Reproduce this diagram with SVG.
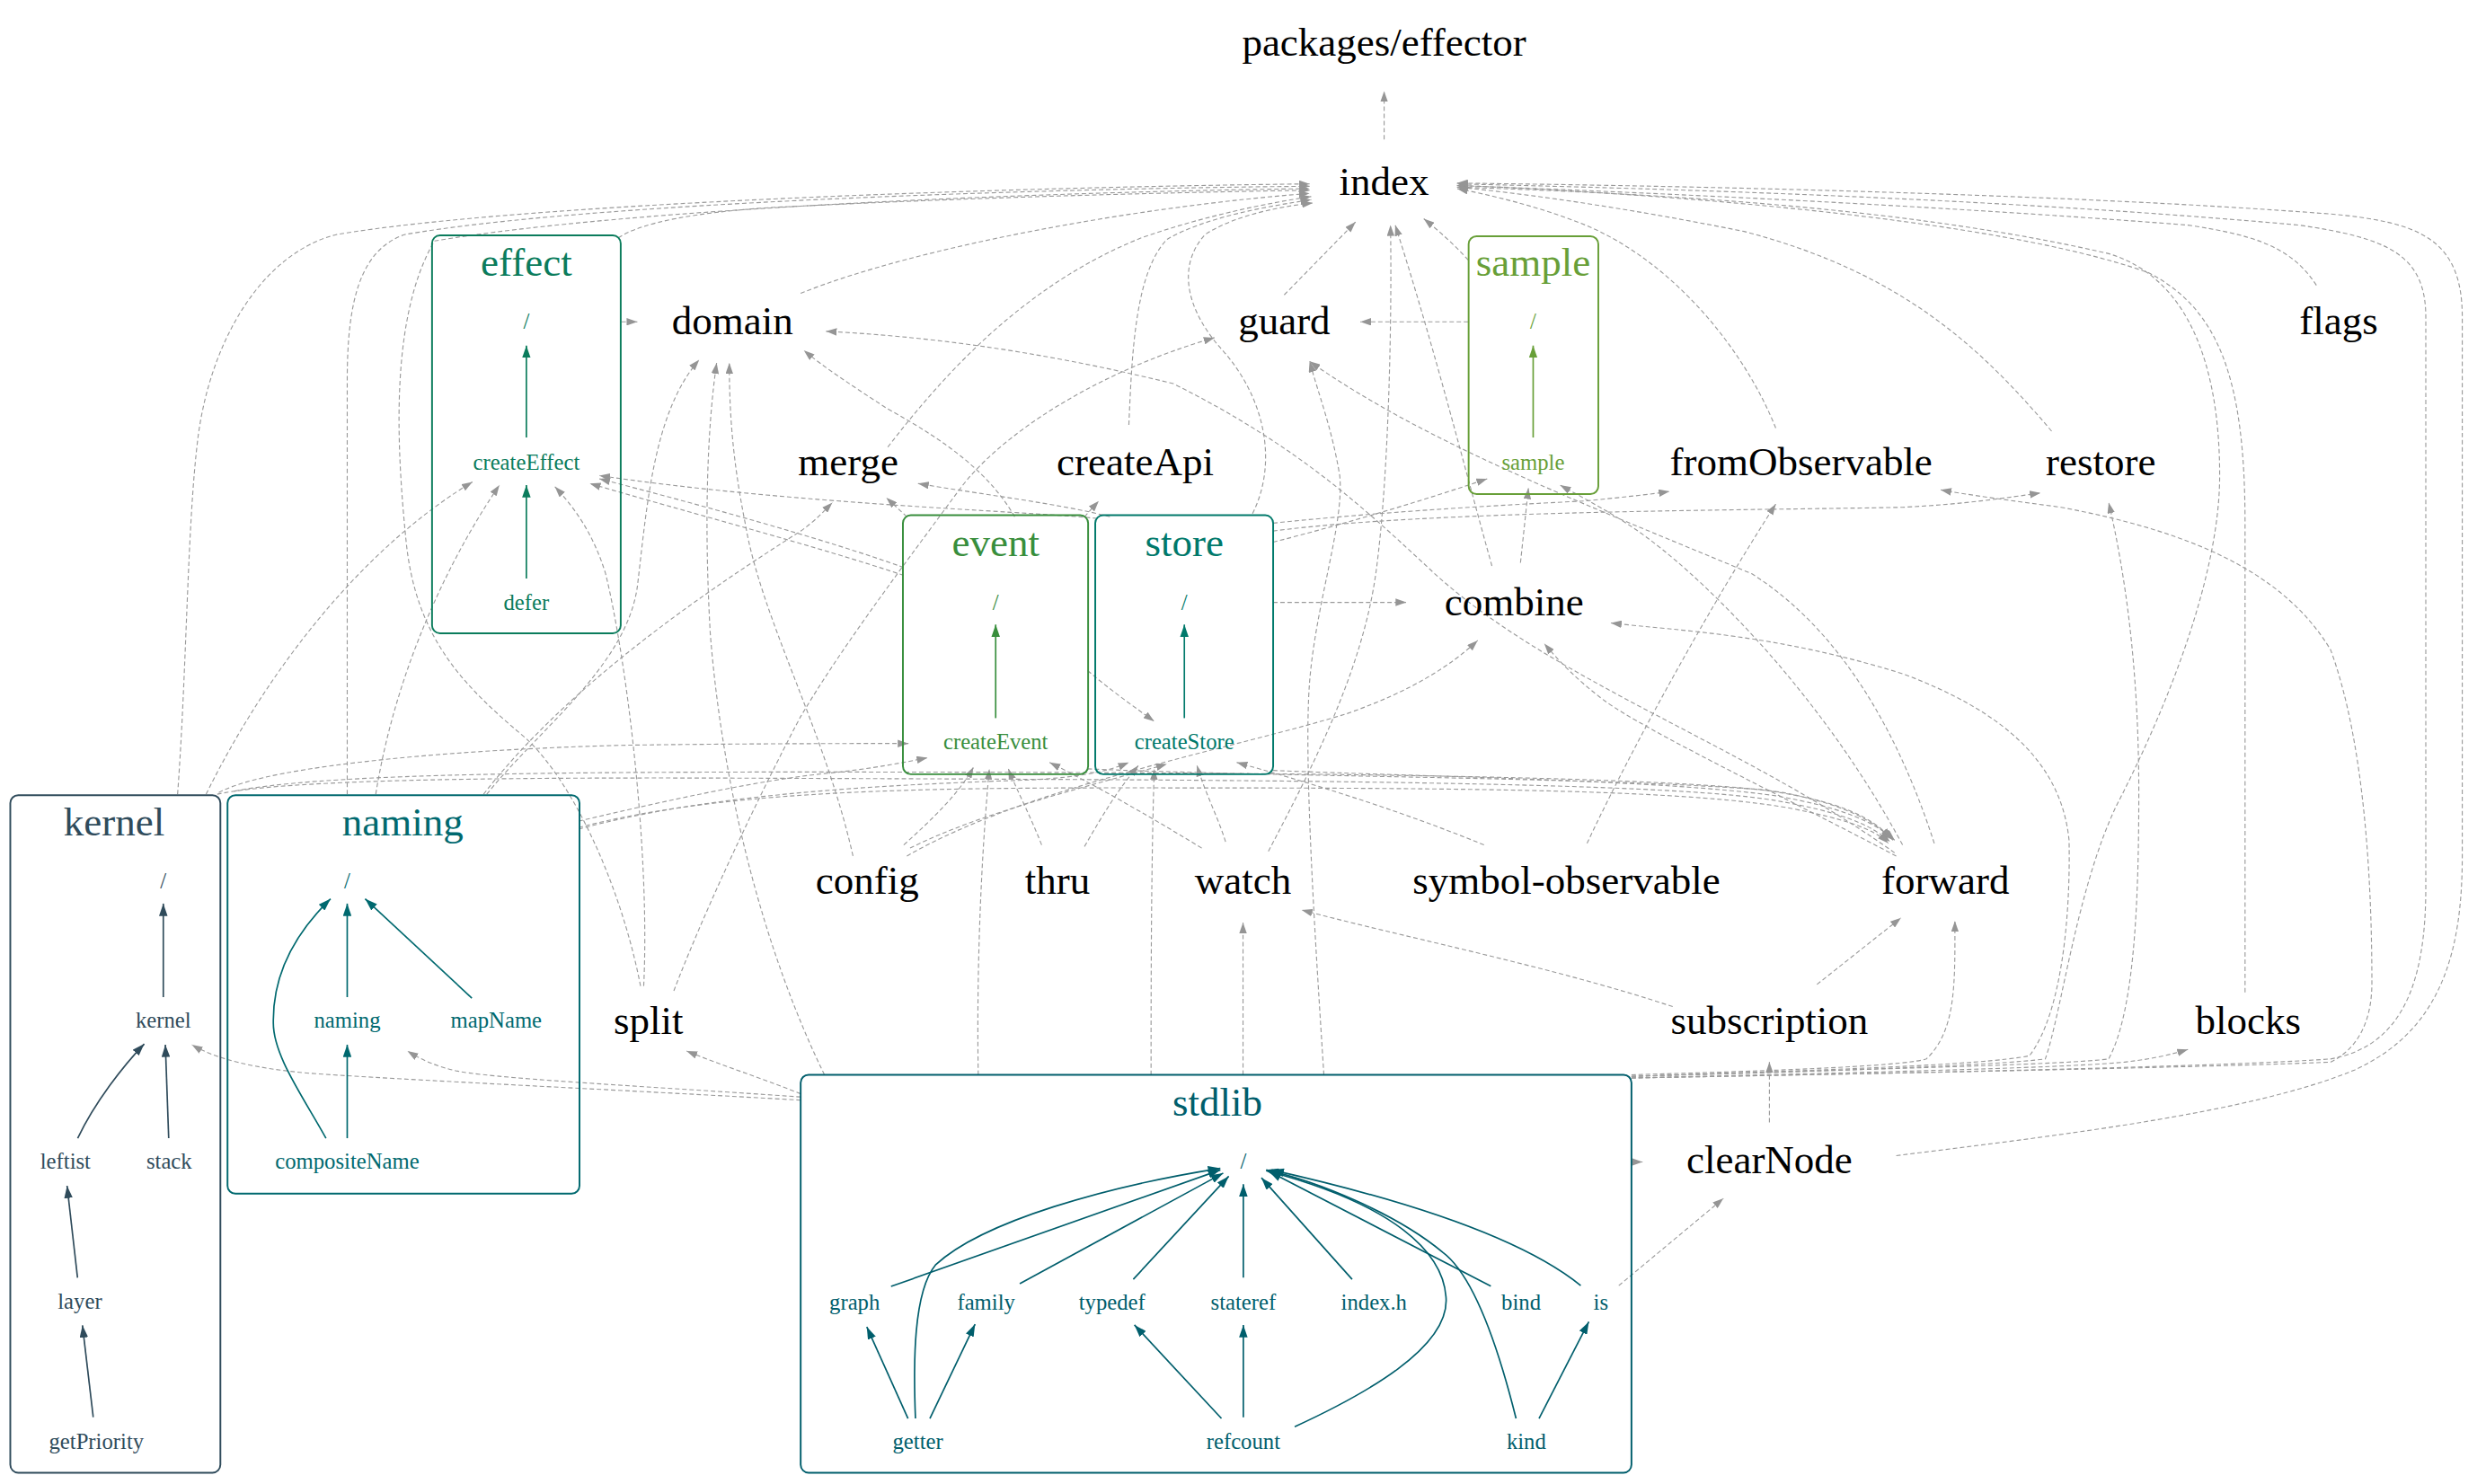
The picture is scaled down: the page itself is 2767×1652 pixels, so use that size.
<svg xmlns="http://www.w3.org/2000/svg" width="2767" height="1652" viewBox="0 0 2767 1652">
<defs>
<style>
text{font-family:"Liberation Serif","Times New Roman",serif;text-anchor:middle;stroke:none}
.big{font-size:25.5px;fill:#000}
.sm{font-size:14px}
.lab{font-size:25.5px}
.e{fill:none;stroke:#9a9a9a;stroke-width:0.64;stroke-dasharray:2.8 1.7;marker-end:url(#ga)}
.effect{stroke:#0b7c5c;fill:#0b7c5c}
.sample{stroke:#689f38;fill:#689f38}
.event{stroke:#388e3c;fill:#388e3c}
.store{stroke:#00796b;fill:#00796b}
.kernel{stroke:#2f4b5b;fill:#2f4b5b}
.naming{stroke:#00696f;fill:#00696f}
.stdlib{stroke:#005e6c;fill:#005e6c}
rect.cl{fill:none !important;stroke-width:1.1}
path.in{fill:none !important;stroke-width:0.95}
text{stroke:none !important}
</style>
<marker id="ga" markerUnits="userSpaceOnUse" markerWidth="7" markerHeight="4.8" refX="6.8" refY="2.4" orient="auto"><path d="M0,0 L6.8,2.4 L0,4.8 z" fill="#959595"/></marker>
<marker id="m-effect" markerUnits="userSpaceOnUse" markerWidth="8" markerHeight="5.4" refX="7.8" refY="2.7" orient="auto"><path d="M0,0 L7.8,2.7 L0,5.4 z" fill="#0b7c5c"/></marker>
<marker id="m-sample" markerUnits="userSpaceOnUse" markerWidth="8" markerHeight="5.4" refX="7.8" refY="2.7" orient="auto"><path d="M0,0 L7.8,2.7 L0,5.4 z" fill="#689f38"/></marker>
<marker id="m-event" markerUnits="userSpaceOnUse" markerWidth="8" markerHeight="5.4" refX="7.8" refY="2.7" orient="auto"><path d="M0,0 L7.8,2.7 L0,5.4 z" fill="#388e3c"/></marker>
<marker id="m-store" markerUnits="userSpaceOnUse" markerWidth="8" markerHeight="5.4" refX="7.8" refY="2.7" orient="auto"><path d="M0,0 L7.8,2.7 L0,5.4 z" fill="#00796b"/></marker>
<marker id="m-kernel" markerUnits="userSpaceOnUse" markerWidth="8" markerHeight="5.4" refX="7.8" refY="2.7" orient="auto"><path d="M0,0 L7.8,2.7 L0,5.4 z" fill="#2f4b5b"/></marker>
<marker id="m-naming" markerUnits="userSpaceOnUse" markerWidth="8" markerHeight="5.4" refX="7.8" refY="2.7" orient="auto"><path d="M0,0 L7.8,2.7 L0,5.4 z" fill="#00696f"/></marker>
<marker id="m-stdlib" markerUnits="userSpaceOnUse" markerWidth="8" markerHeight="5.4" refX="7.8" refY="2.7" orient="auto"><path d="M0,0 L7.8,2.7 L0,5.4 z" fill="#005e6c"/></marker>
</defs>
<rect width="2767" height="1652" fill="#fff"/>
<g transform="scale(1.7647)">

<g id="connectors">
<path class="e" d="M873,88 L873,57.5"/>
<path class="e" d="M112,501 C118,420 118,330 125,275 C133,215 165,160 212,148 C330,128 640,118 826,116"/>
<path class="e" d="M219,501 L219,240 C219,190 227,158 255,148 C370,128 650,119 826,117.5"/>
<path class="e" d="M404,622 C392,560 362,494 332,466 C294,434 262,404 256,340 C250,280 246,200 274,152 C400,131 660,121 826,119"/>
<path class="e" d="M390,150 C405,140 440,134 485,131 C620,124 760,121 826,120"/>
<path class="e" d="M505,185 C580,155 720,130 826,122"/>
<path class="e" d="M560,282 C600,230 650,178 720,150 C760,136 800,128 827,124"/>
<path class="e" d="M712,268 C714,222 716,172 736,151 C760,137 800,130 827,126"/>
<path class="e" d="M790,324 C806,292 798,252 772,222 C748,196 742,168 760,148 C780,135 810,130 828,128"/>
<path class="e" d="M810,186 L855,140"/>
<path class="e" d="M941,357 C925,300 905,220 880,142"/>
<path class="e" d="M800,537 C830,480 860,420 868,360 C876,300 878,200 877,142"/>
<path class="e" d="M926,164 C918,155 908,146 898,138"/>
<path class="e" d="M1120,270 C1100,220 1055,165 1000,142 C970,130 940,123 919,119"/>
<path class="e" d="M1294,272 C1250,220 1200,172 1100,146 C1020,130 960,122 919,118"/>
<path class="e" d="M1461,180 C1445,155 1420,148 1380,142 C1200,128 1000,120 919,117"/>
<path class="e" d="M1416,626 L1416,330 C1416,240 1400,195 1355,172 C1260,138 1050,122 919,117"/>
<path class="e" d="M1029,679 C1150,676 1260,672 1290,668 C1300,640 1310,560 1335,508 C1370,440 1400,360 1400,300 C1400,230 1380,175 1330,160 C1200,130 1040,122 919,118"/>
<path class="e" d="M1029,680 C1200,677 1400,673 1470,668 C1515,660 1530,620 1530,560 L1530,200 C1530,160 1505,150 1450,142 C1260,125 1050,119 919,116"/>
<path class="e" d="M1196,729 C1300,716 1420,702 1485,675 C1540,650 1553,600 1553,540 L1553,200 C1553,150 1525,140 1470,135 C1300,122 1050,117 919,115.5"/>
<path class="e" d="M1029,680 C1200,677 1400,673 1470,670 C1490,660 1496,640 1496,620 C1496,560 1492,470 1470,410 C1440,360 1380,335 1300,320 C1270,316 1240,312 1224,309"/>
<path class="e" d="M1029,679 C1150,675 1300,672 1330,668 C1345,640 1349,580 1349,500 C1349,420 1340,360 1330,317"/>
<path class="e" d="M1029,679 C1150,675 1250,672 1280,666 C1300,640 1306,580 1305,530 C1300,480 1262,448 1200,425 C1120,400 1060,398 1016,393"/>
<path class="e" d="M1029,678 C1100,676 1200,673 1215,668 C1234,650 1233,620 1233,581"/>
<path class="e" d="M1029,680 C1150,677 1300,674 1340,670 C1358,668 1370,665 1380,662"/>
<path class="e" d="M784,678 L784,582"/>
<path class="e" d="M505,690 C480,680 455,672 433,663"/>
<path class="e" d="M505,692 C420,686 320,681 290,676 C275,673 265,668 257,663"/>
<path class="e" d="M505,694 C400,688 250,681 195,677 C160,674 136,668 121,659"/>
<path class="e" d="M617,678 C616,620 618,550 624,485"/>
<path class="e" d="M726,678 C726,620 726,550 728,485"/>
<path class="e" d="M520,678 C482,600 456,500 448,400 C444,330 446,270 452,229"/>
<path class="e" d="M835,678 C830,600 822,480 826,430 C830,380 848,330 845,300 C840,270 832,250 826,228"/>
<path class="e" d="M1116,708 L1116,670"/>
<path class="e" d="M1021,811 L1087,756"/>
<path class="e" d="M1029,733 L1036,733"/>
<path class="e" d="M1055,635 C980,610 880,590 821,574"/>
<path class="e" d="M1146,621 L1199,579"/>
<path class="e" d="M538,540 C520,460 480,390 470,330 C462,290 460,260 460,229"/>
<path class="e" d="M307,501 C340,460 395,420 402,370 C408,320 412,260 441,227"/>
<path class="e" d="M640,326 C625,300 600,280 560,258 C540,245 520,232 507,221"/>
<path class="e" d="M1195,538 C1100,470 980,430 905,362 C862,322 820,282 740,242 C650,220 580,212 521,209"/>
<path class="e" d="M392,203 L402,203"/>
<path class="e" d="M926,203 L858,203"/>
<path class="e" d="M425,625 C450,560 490,480 505,452 C530,410 560,370 605,309 C630,275 690,235 766,213"/>
<path class="e" d="M1220,532 C1200,470 1165,400 1105,362 C1000,318 900,280 826,228"/>
<path class="e" d="M803,380 L887,380"/>
<path class="e" d="M572,540 C650,495 780,472 850,450 C890,436 915,420 932,404"/>
<path class="e" d="M1196,540 C1120,500 1040,462 1012,442 C996,430 984,418 974,406"/>
<path class="e" d="M959,355 L964,308"/>
<path class="e" d="M803,342 C850,330 900,315 938,302"/>
<path class="e" d="M1200,533 C1150,440 1080,370 1040,340 C1020,325 1000,315 984,306"/>
<path class="e" d="M1001,532 C1030,470 1080,380 1120,318"/>
<path class="e" d="M803,330 C880,322 960,318 1000,316 C1020,314 1040,312 1053,310"/>
<path class="e" d="M803,335 C900,322 1100,322 1200,320 C1240,318 1265,314 1287,311"/>
<path class="e" d="M686,423 C700,435 714,445 728,455"/>
<path class="e" d="M572,326 L559,314"/>
<path class="e" d="M700,326 C670,318 620,312 579,305"/>
<path class="e" d="M684,326 L693,316"/>
<path class="e" d="M305,501 C360,430 450,370 505,335 C515,328 520,322 525,317"/>
<path class="e" d="M130,501 C170,420 230,345 298,304"/>
<path class="e" d="M237,501 C250,420 285,350 315,306"/>
<path class="e" d="M406,622 C410,540 396,420 382,362 C374,336 362,320 350,307"/>
<path class="e" d="M570,358 C520,340 440,318 378,302"/>
<path class="e" d="M570,363 C520,346 430,322 372,305"/>
<path class="e" d="M692,327 C640,322 500,318 378,300"/>
<path class="e" d="M138,500 C170,482 300,472 400,470 C480,469 540,469 573,469"/>
<path class="e" d="M365,518 C420,505 480,492 520,488 C550,485 570,481 585,478"/>
<path class="e" d="M570,533 C590,515 605,500 614,484"/>
<path class="e" d="M657,533 C650,515 642,500 636,485"/>
<path class="e" d="M758,535 C720,512 690,495 662,481"/>
<path class="e" d="M574,535 C620,512 690,495 736,482"/>
<path class="e" d="M684,534 C695,515 705,498 718,483"/>
<path class="e" d="M773,531 C768,515 760,500 755,483"/>
<path class="e" d="M936,533 C880,510 820,492 780,481"/>
<path class="e" d="M365,523 C450,500 560,495 650,492 C685,490 700,486 712,481"/>
<path class="e" d="M137,501 C180,492 300,490 500,491 C800,492 1050,493 1120,505 C1160,512 1180,520 1192,531"/>
<path class="e" d="M148,499 C200,489 320,487 500,487 C800,487 1050,489 1125,500 C1165,508 1182,518 1194,530"/>
<path class="e" d="M365,522 C450,500 560,497 700,497 C900,497 1060,497 1130,510 C1165,517 1182,523 1191,532"/>
<path class="e" d="M686,485 C800,490 1000,490 1110,498 C1160,505 1180,515 1193,529"/>
<path class="e" d="M803,486 C900,490 1050,492 1120,502 C1160,509 1182,518 1195,530"/>
</g>

<g id="packages-effector"><text class="big" x="873" y="35">packages/effector</text></g>
<g id="index"><text class="big" x="873" y="123">index</text></g>
<g id="domain"><text class="big" x="462" y="211">domain</text></g>
<g id="guard"><text class="big" x="810" y="211">guard</text></g>
<g id="flags"><text class="big" x="1475" y="211">flags</text></g>
<g id="merge"><text class="big" x="535" y="300">merge</text></g>
<g id="createApi"><text class="big" x="716" y="300">createApi</text></g>
<g id="fromObservable"><text class="big" x="1136" y="300">fromObservable</text></g>
<g id="restore"><text class="big" x="1325" y="300">restore</text></g>
<g id="combine"><text class="big" x="955" y="388">combine</text></g>
<g id="config"><text class="big" x="547" y="564">config</text></g>
<g id="thru"><text class="big" x="667" y="564">thru</text></g>
<g id="watch"><text class="big" x="784" y="564">watch</text></g>
<g id="symbol-observable"><text class="big" x="988" y="564">symbol-observable</text></g>
<g id="forward"><text class="big" x="1227" y="564">forward</text></g>
<g id="split"><text class="big" x="409" y="652">split</text></g>
<g id="subscription"><text class="big" x="1116" y="652">subscription</text></g>
<g id="blocks"><text class="big" x="1418" y="652">blocks</text></g>
<g id="clearNode"><text class="big" x="1116" y="740">clearNode</text></g>

<g id="cluster-effect">
<rect class="cl effect" x="272.5" y="148.5" width="119" height="251" rx="5"/>
<text class="lab effect" x="332" y="174">effect</text>
<text class="sm effect" x="332" y="207.5">/</text>
<text class="sm effect" x="332" y="296.5">createEffect</text>
<text class="sm effect" x="332" y="384.5">defer</text>
<path class="in effect" marker-end="url(#m-effect)" d="M332,276 L332,218"/>
<path class="in effect" marker-end="url(#m-effect)" d="M332,365 L332,306"/>
</g>
<g id="cluster-sample">
<rect class="cl sample" x="926.3" y="149" width="81.8" height="162.7" rx="5"/>
<text class="lab sample" x="967" y="174">sample</text>
<text class="sm sample" x="967" y="207.5">/</text>
<text class="sm sample" x="967" y="296.5">sample</text>
<path class="in sample" marker-end="url(#m-sample)" d="M967,276 L967,218"/>
</g>
<g id="cluster-event">
<rect class="cl event" x="569.5" y="325" width="116.8" height="163.4" rx="5"/>
<text class="lab event" x="628" y="351">event</text>
<text class="sm event" x="628" y="384.5">/</text>
<text class="sm event" x="628" y="472.5">createEvent</text>
<path class="in event" marker-end="url(#m-event)" d="M628,453 L628,394"/>
</g>
<g id="cluster-store">
<rect class="cl store" x="690.8" y="325" width="112.2" height="163.4" rx="5"/>
<text class="lab store" x="747" y="351">store</text>
<text class="sm store" x="747" y="384.5">/</text>
<text class="sm store" x="747" y="472.5">createStore</text>
<path class="in store" marker-end="url(#m-store)" d="M747,453 L747,394"/>
</g>
<g id="cluster-kernel">
<rect class="cl kernel" x="6.5" y="501.6" width="132.5" height="427.4" rx="5"/>
<text class="lab kernel" x="72" y="527">kernel</text>
<text class="sm kernel" x="103" y="560.5">/</text>
<text class="sm kernel" x="103" y="648.5">kernel</text>
<text class="sm kernel" x="41.3" y="737">leftist</text>
<text class="sm kernel" x="106.7" y="737">stack</text>
<text class="sm kernel" x="50.4" y="825.5">layer</text>
<text class="sm kernel" x="60.8" y="914">getPriority</text>
<path class="in kernel" marker-end="url(#m-kernel)" d="M103,629 L103,570"/>
<path class="in kernel" marker-end="url(#m-kernel)" d="M49,718 C60,695 78,672 91,658.5"/>
<path class="in kernel" marker-end="url(#m-kernel)" d="M106.4,718 L104.3,659"/>
<path class="in kernel" marker-end="url(#m-kernel)" d="M48.9,806 L42.3,748"/>
<path class="in kernel" marker-end="url(#m-kernel)" d="M58.8,894 L52,836"/>
</g>
<g id="cluster-naming">
<rect class="cl naming" x="143.5" y="501.6" width="222" height="251.4" rx="5"/>
<text class="lab naming" x="254" y="527">naming</text>
<text class="sm naming" x="219" y="560.5">/</text>
<text class="sm naming" x="219" y="648.5">naming</text>
<text class="sm naming" x="313" y="648.5">mapName</text>
<text class="sm naming" x="219" y="737">compositeName</text>
<path class="in naming" marker-end="url(#m-naming)" d="M219,629 L219,570"/>
<path class="in naming" marker-end="url(#m-naming)" d="M297.6,629.6 L230.3,567"/>
<path class="in naming" marker-end="url(#m-naming)" d="M219,718 L219,659"/>
<path class="in naming" marker-end="url(#m-naming)" d="M205.6,718 C190,690 172,665 172.4,644.7 C172,610 190,585 208.5,567"/>
</g>
<g id="cluster-stdlib">
<rect class="cl stdlib" x="505" y="678" width="524" height="251" rx="5"/>
<text class="lab stdlib" x="767.8" y="704">stdlib</text>
<text class="sm stdlib" x="784.2" y="737">/</text>
<text class="sm stdlib" x="539" y="826">graph</text>
<text class="sm stdlib" x="622" y="826">family</text>
<text class="sm stdlib" x="701.4" y="826">typedef</text>
<text class="sm stdlib" x="784.2" y="826">stateref</text>
<text class="sm stdlib" x="866.6" y="826">index.h</text>
<text class="sm stdlib" x="959.4" y="826">bind</text>
<text class="sm stdlib" x="1009.7" y="826">is</text>
<text class="sm stdlib" x="578.9" y="914">getter</text>
<text class="sm stdlib" x="784.2" y="914">refcount</text>
<text class="sm stdlib" x="962.7" y="914">kind</text>
<path class="in stdlib" marker-end="url(#m-stdlib)" d="M562,811.5 L769.7,738"/>
<path class="in stdlib" marker-end="url(#m-stdlib)" d="M577.4,894.8 C576,860 576,815 590,798 C620,770 700,748 769.7,737"/>
<path class="in stdlib" marker-end="url(#m-stdlib)" d="M572.7,894.8 L546.7,837"/>
<path class="in stdlib" marker-end="url(#m-stdlib)" d="M586.5,894.8 L615,835.3"/>
<path class="in stdlib" marker-end="url(#m-stdlib)" d="M643.2,809.8 L771.5,740"/>
<path class="in stdlib" marker-end="url(#m-stdlib)" d="M714.8,807 L775,742"/>
<path class="in stdlib" marker-end="url(#m-stdlib)" d="M784.2,806 L784.2,747"/>
<path class="in stdlib" marker-end="url(#m-stdlib)" d="M852.8,807 L795.6,743"/>
<path class="in stdlib" marker-end="url(#m-stdlib)" d="M940.3,811.3 L800.4,739"/>
<path class="in stdlib" marker-end="url(#m-stdlib)" d="M997,811 C965,785 900,760 802,738"/>
<path class="in stdlib" marker-end="url(#m-stdlib)" d="M956.2,894.8 C945,850 930,805 910,790 C880,765 830,745 798.6,738"/>
<path class="in stdlib" marker-end="url(#m-stdlib)" d="M816.6,900 C860,880 915,850 912,818 C910,790 880,760 798.6,738.5"/>
<path class="in stdlib" marker-end="url(#m-stdlib)" d="M770.4,894.8 L715.5,835.8"/>
<path class="in stdlib" marker-end="url(#m-stdlib)" d="M784.2,894 L784.2,835.8"/>
<path class="in stdlib" marker-end="url(#m-stdlib)" d="M970.7,894.8 L1002.1,833.8"/>
</g>
</g>
</svg>
